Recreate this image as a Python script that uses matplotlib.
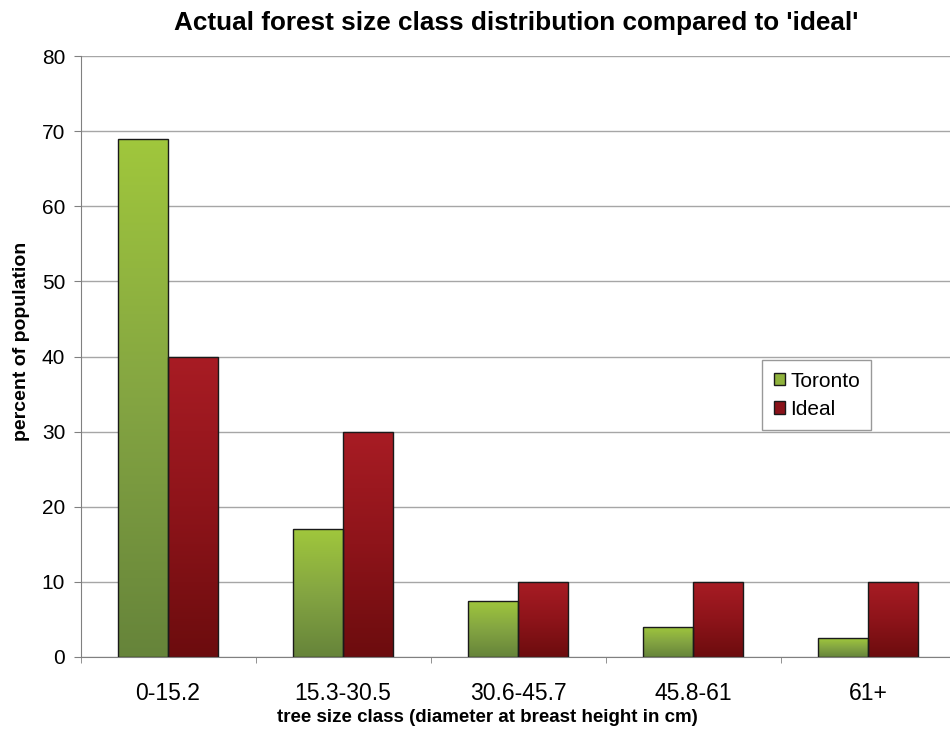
import numpy as np
import matplotlib.pyplot as plt
from matplotlib.colors import LinearSegmentedColormap
from matplotlib.patches import Patch

plt.rcParams['font.family'] = ['Liberation Sans', 'DejaVu Sans']

size_classes = ['0-15.2', '15.3-30.5', '30.6-45.7', '45.8-61', '61+']
toronto = [69, 17, 7.5, 4, 2.5]
ideal = [40, 30, 10, 10, 10]

green_map = LinearSegmentedColormap.from_list('grn', ['#66843a', '#84a542', '#a0c73c'])
red_map = LinearSegmentedColormap.from_list('red', ['#6c0c0e', '#8e141a', '#a81c24'])


def gradient_bars(ax, bars, cmap):
    # fill each bar with a vertical gradient, clipped to the bar outline
    grad = np.linspace(0, 1, 256).reshape(-1, 1)
    for b in bars:
        x0, y0 = b.get_x(), b.get_y()
        w, h = b.get_width(), b.get_height()
        im = ax.imshow(grad, cmap=cmap, origin='lower', aspect='auto',
                       extent=(x0, x0 + w, y0, y0 + h), zorder=2)
        im.set_clip_path(b)
        b.set_facecolor('none')


fig = plt.figure(figsize=(9.5, 7.32), dpi=100)
ax = fig.add_axes([80.5 / 950, 75 / 732, 875 / 950, 601 / 732])

x = np.arange(len(size_classes))
width = 50 / 175
bars1 = ax.bar(x - width / 2, toronto, width, edgecolor='#1a1a1a', linewidth=1.0, zorder=3)
bars2 = ax.bar(x + width / 2, ideal, width, edgecolor='#1a1a1a', linewidth=1.0, zorder=3)
gradient_bars(ax, bars1, green_map)
gradient_bars(ax, bars2, red_map)

ax.set_xlim(-0.5, 4.5)
ax.set_ylim(0, 80)
ax.set_yticks(range(0, 81, 10))
ax.yaxis.grid(True, color='#a6a6a6', linewidth=1.0)
ax.set_axisbelow(True)

ax.set_xticks(x)
ax.set_xticklabels(size_classes, fontsize=16.5)
ax.set_xticks(np.arange(-0.5, 5, 1), minor=True)
ax.tick_params(axis='x', which='major', length=0, pad=18)
ax.tick_params(axis='x', which='minor', length=4, color='#808080')
ax.tick_params(axis='y', labelsize=15, length=5, color='#808080', pad=6)

for s in ['top', 'right']:
    ax.spines[s].set_visible(False)
ax.spines['left'].set_color('#808080')
ax.spines['bottom'].set_color('#808080')

# axis titles placed on the figure
fig.text(22 / 950, 1 - 341 / 732, 'percent of population', rotation=90,
         ha='center', va='center', fontsize=14, fontweight='bold')
fig.text(487 / 950, 1 - 718 / 732, 'tree size class (diameter at breast height in cm)',
         ha='center', va='center', fontsize=13.5, fontweight='bold')
fig.text(0.543, 0.969, "Actual forest size class distribution compared to 'ideal'",
         ha='center', va='center', fontsize=18.8, fontweight='bold')

handles = [Patch(facecolor='#8fb23c', edgecolor='#1a1a1a', label='Toronto'),
           Patch(facecolor='#8a1219', edgecolor='#1a1a1a', label='Ideal')]
leg = ax.legend(handles=handles, loc='upper left', bbox_to_anchor=(0.779, 0.494),
                borderaxespad=0, fontsize=15, frameon=True, fancybox=False,
                edgecolor='#808080', handlelength=0.55, handleheight=0.55,
                handletextpad=0.25, labelspacing=0.45, borderpad=0.55)
leg.get_frame().set_linewidth(1.0)

fig.savefig('out.png', dpi=100)
